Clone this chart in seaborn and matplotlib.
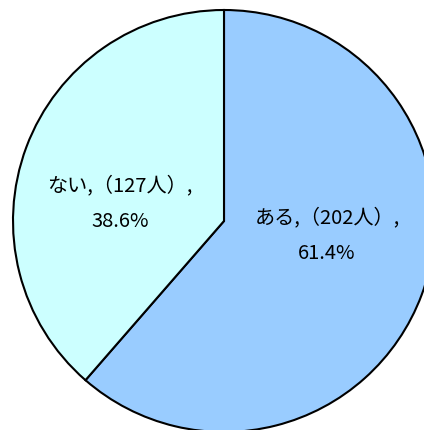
import matplotlib
matplotlib.use("Agg")
import matplotlib.pyplot as plt
import seaborn as sns

# data
categories = ["ある", "ない"]
counts = [202, 127]
percents = [61.4, 38.6]
colors = ["#99CCFF", "#CCFFFF"]

sns.set_theme(style="white")
plt.rcParams["font.family"] = ["Noto Sans CJK JP", "DejaVu Sans"]

fig = plt.figure(figsize=(4.24, 4.30), dpi=100)
# pie of radius 1 centred at (224, 221) px, radius ~211 px
ax = fig.add_axes([13 / 424, -2 / 430, 422 / 424, 422 / 430])

wedges, _ = ax.pie(
    counts,
    colors=colors,
    startangle=90,
    counterclock=False,
    wedgeprops=dict(edgecolor="black", linewidth=1.5, clip_on=False),
)

label_pos = [(0.488, -0.070), (-0.493, 0.082)]
for cat, n, p, (x, y) in zip(categories, counts, percents, label_pos):
    ax.text(x, y, f"{cat},（{n}人）,\n{p:.1f}%", ha="center", va="center",
            fontsize=14.5, linespacing=1.95, color="black")

ax.set_xlim(-1, 1)
ax.set_ylim(-1, 1)
ax.axis("off")

fig.savefig("out.png", dpi=100)
